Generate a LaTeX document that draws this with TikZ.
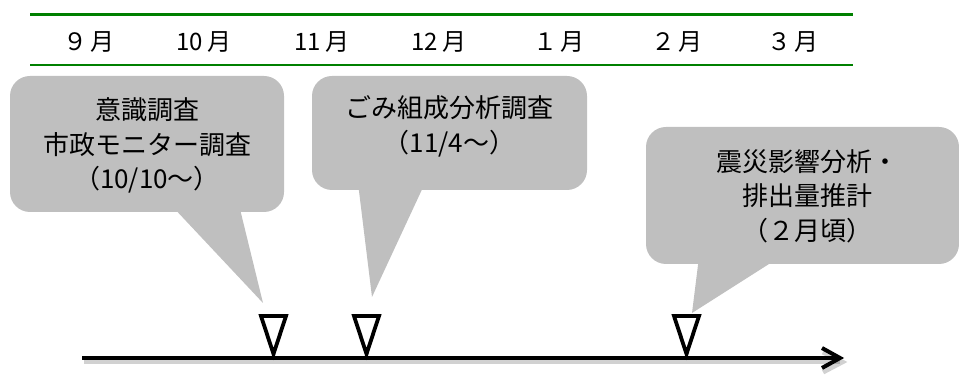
\documentclass[tikz,border=0pt]{standalone}
\usepackage{fontspec}
\setmainfont{Noto Sans CJK JP}
\usetikzlibrary{calc}
\definecolor{lgreen}{RGB}{0,128,0}
\definecolor{cgray}{RGB}{191,191,191}
\tikzset{
  greenrule/.style={draw=lgreen},
  month/.style={font=\fontsize{24}{26}\selectfont, inner sep=0pt, anchor=center},
  callbox/.style={fill=cgray, rounded corners=20pt, inner sep=0pt, draw=none},
  calltext/.style={font=\fontsize{26}{34.5}\selectfont, align=center, inner sep=0pt},
  pointer/.style={fill=cgray, draw=none},
  marker/.style={draw=black, fill=white, line width=3.8pt, line join=miter},
  timeline/.style={draw=black, line width=4pt},
  tshadow/.style={draw=black, opacity=0.18, line width=5pt},
}
\begin{document}
\begin{tikzpicture}[x=1pt,y=-1pt]
\useasboundingbox (0,0) rectangle (959,379);
% header rules
\coordinate (tl) at (30,14.5);
\coordinate (tr) at (853,14.5);
\coordinate (bl) at (30,65.5);
\coordinate (br) at (853,65.5);
\draw[greenrule, line width=3pt] (tl) -- (tr);
\draw[greenrule, line width=2pt] (bl) -- (br);
% months
\node[month] (m9)  at (89,42)  {９\hspace{3pt}月};
\node[month] (m10) at (204,42) {10\hspace{5pt}月};
\node[month] (m11) at (322,42) {11\hspace{5pt}月};
\node[month] (m12) at (439,42) {12\hspace{5pt}月};
\node[month] (m1)  at (559,42) {１\hspace{3pt}月};
\node[month] (m2)  at (677,42) {２\hspace{3pt}月};
\node[month] (m3)  at (793,42) {３\hspace{3pt}月};
% callout 1
\coordinate (p1a) at (171,205);
\coordinate (p1b) at (239,205);
\coordinate (p1t) at (263,303);
\fill[pointer] (p1a) -- (p1t) -- (p1b) -- cycle;
\node[callbox, minimum width=274pt, minimum height=136pt] (b1) at (147,144) {};
\node[calltext] (t1) at (147,145.5) {意識調査\\市政モニター調査\\（10/10～）};
% callout 2
\coordinate (p2a) at (358,183);
\coordinate (p2b) at (425,183);
\coordinate (p2t) at (372,297);
\fill[pointer] (p2a) -- (p2t) -- (p2b) -- cycle;
\node[callbox, minimum width=275pt, minimum height=114pt] (b2) at (449.5,133) {};
\node[calltext] (t2) at (449.5,126.5) {ごみ組成分析調査\\（11/4～）};
% callout 3
\coordinate (p3a) at (699,257);
\coordinate (p3b) at (780,257);
\coordinate (p3t) at (692,313);
\fill[pointer] (p3a) -- (p3t) -- (p3b) -- cycle;
\node[callbox, minimum width=313pt, minimum height=137pt] (b3) at (802.5,195.5) {};
\node[calltext] (t3) at (807,196) {震災影響分析・\\排出量推計\\（２月頃）};
% timeline
\coordinate (ls) at (82,358);
\coordinate (le) at (840,358);
\coordinate (ha) at (822,348);
\coordinate (hb) at (822,368);
\draw[tshadow] ($(ls)+(2,4)$) -- ($(le)+(0,4)$);
\draw[tshadow] ($(ha)+(1,4)$) -- ($(le)+(2,4)$) -- ($(hb)+(1,4)$);
\draw[timeline] (ls) -- (le);
\draw[timeline, line join=miter, line cap=butt] (ha) -- (le) -- (hb);
% markers
\draw[marker] (261,316) -- (286,316) -- (273.5,354) -- cycle;
\draw[marker] (354,316) -- (379,316) -- (366.5,354) -- cycle;
\draw[marker] (674,316) -- (699,316) -- (686.5,354) -- cycle;
\end{tikzpicture}
\end{document}
